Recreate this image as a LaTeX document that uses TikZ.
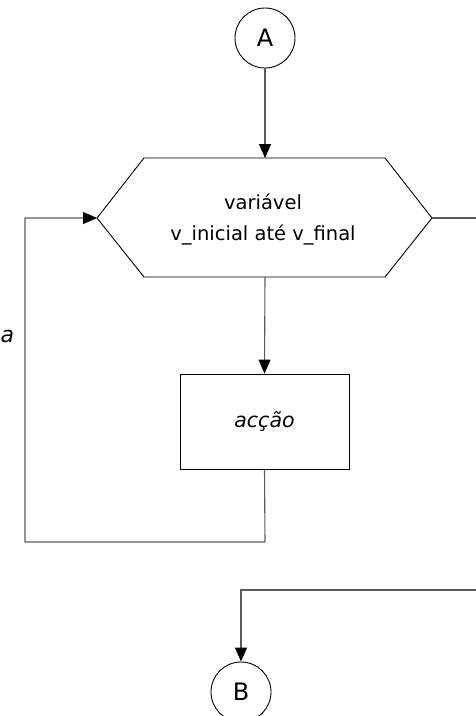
\documentclass[tikz,border=0pt]{standalone}
\usepackage{fontspec}
\setmainfont{DejaVu Sans}[ItalicFont={DejaVu Sans Oblique}]
\usetikzlibrary{arrows.meta}
\definecolor{conngray}{HTML}{5A5A5A}
\begin{document}
\begin{tikzpicture}[x=1pt,y=-1pt,
  shapeline/.style={draw=black,line width=0.9pt},
  conn/.style={draw=conngray,line width=1.1pt},
  arr/.style={conn,-{Triangle[length=14pt,width=12pt,fill=black,color=black]}},
  conncircle/.style={circle,shapeline,minimum size=60pt,inner sep=0pt,font=\fontsize{24}{28}\selectfont},
  txt/.style={font=\fontsize{19.5}{31}\selectfont,align=center,inner sep=0pt}]
\useasboundingbox (0,0) rectangle (475,716);
% connector A
\node[conncircle] (A) at (265,38) {A};
% hexagon
\coordinate (hl) at (97,218);
\coordinate (htl) at (144,158);
\coordinate (htr) at (385,158);
\coordinate (hr) at (432,218);
\coordinate (hbr) at (385,277);
\coordinate (hbl) at (144,277);
\coordinate (ht) at (265,158);
\coordinate (hb) at (265,277);
\draw[shapeline] (hl) -- (htl) -- (htr) -- (hr) -- (hbr) -- (hbl) -- cycle;
\node[txt] (hex) at (263,219) {variável\\v\_inicial até v\_final};
% action box
\node[shapeline,rectangle,minimum width=169pt,minimum height=95pt,inner sep=0pt,
  font=\fontsize{20.5}{24}\selectfont\itshape] (act) at (264.5,421.5) {acção};
% connector B
\node[conncircle] (B) at (241,692) {B};
% loop label
\node[font=\fontsize{22}{26}\selectfont\itshape,anchor=base west,inner sep=0pt] (lbl) at (0.5,342) {a};
% connectors
\coordinate (c1) at (265,542);
\coordinate (c2) at (25,542);
\coordinate (c3) at (25,218);
\coordinate (r1) at (476,218);
\coordinate (r2) at (476,590);
\coordinate (r3) at (241,590);
\draw[arr] (A.south) -- (ht);
\draw[arr] (hb) -- (act.north);
\draw[arr] (act.south) -- (c1) -- (c2) -- (c3) -- (hl);
\draw[conn] (hr) -- (r1);
\draw[arr] (r2) -- (r3) -- (B.north);
\end{tikzpicture}
\end{document}
